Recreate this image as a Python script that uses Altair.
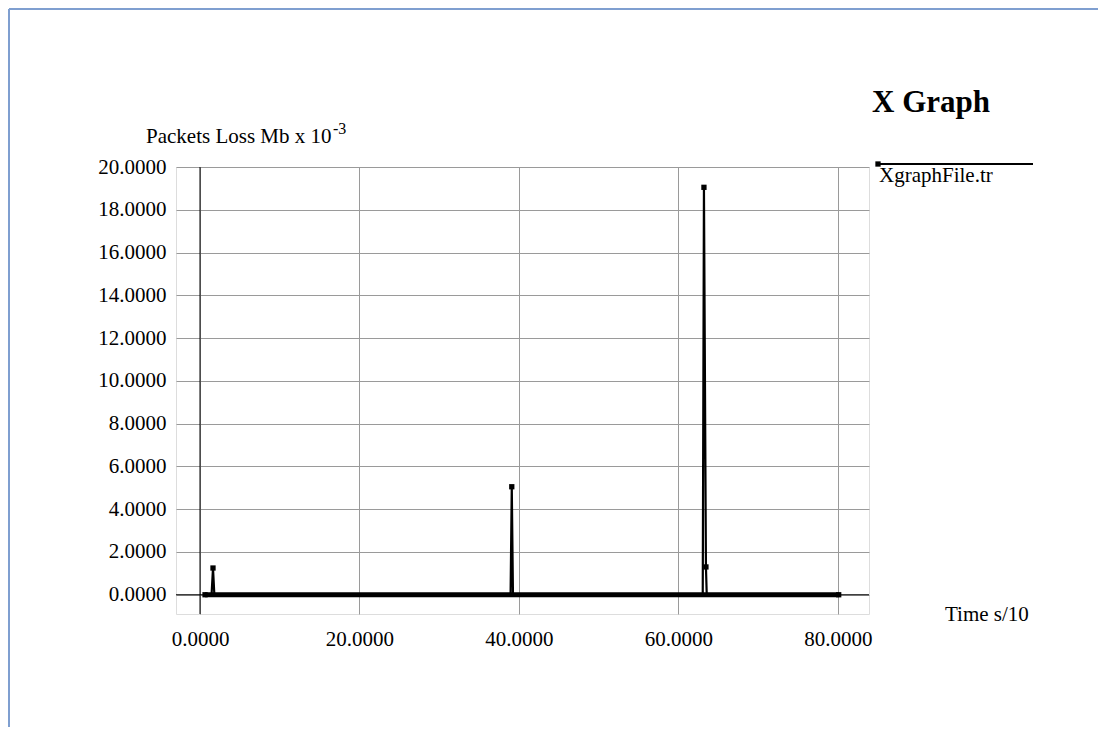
import altair as alt
import pandas as pd

# series (x = Time s/10, y = Packets Loss Mb x 10^-3)
line_x = [0.63, 1.45, 1.63, 1.80, 38.95, 39.10, 39.25, 63.05, 63.20, 63.45, 63.55, 80.10]
line_y = [0.0, 0.0, 1.25, 0.0, 0.0, 5.05, 0.0, 0.0, 19.05, 1.30, 0.0, 0.0]
marker_x = [0.63, 1.63, 39.10, 63.20, 63.45, 80.10]
marker_y = [0.0, 1.25, 5.05, 19.05, 1.30, 0.0]
base_start = [0.63]
base_end = [80.10]

x_ticks = [0, 20, 40, 60, 80]
y_ticks = [0, 2, 4, 6, 8, 10, 12, 14, 16, 18, 20]
x_domain = [-3.01, 83.9]
y_domain = [-0.9, 20.0]

FONT = "Liberation Serif"
FS = 21

df_line = pd.DataFrame({"x": line_x, "y": line_y, "o": list(range(len(line_x)))})
df_mark = pd.DataFrame({"x": marker_x, "y": marker_y})
df_base = pd.DataFrame({"x": base_start, "x2": base_end, "y": [0.0]})
df_zero = pd.DataFrame({"v": [0.0]})
df_one = pd.DataFrame({"a": [1]})

xs = alt.Scale(domain=x_domain, nice=False, zero=False)
ys = alt.Scale(domain=y_domain, nice=False, zero=False)

xaxis = alt.Axis(values=x_ticks, format=".4f", title=None, grid=True, ticks=False,
                 domain=False, labelPadding=14, labelFont=FONT, labelFontSize=FS,
                 labelColor="black", gridColor="#9a9a9a", labelFlush=False)
yaxis = alt.Axis(values=y_ticks, format=".4f", title=None, grid=True, ticks=False,
                 domain=False, labelPadding=10, labelFont=FONT, labelFontSize=FS,
                 labelColor="black", gridColor="#9a9a9a")

line = alt.Chart(df_line).mark_line(color="black", strokeWidth=2.2).encode(
    x=alt.X("x:Q", scale=xs, axis=xaxis),
    y=alt.Y("y:Q", scale=ys, axis=yaxis),
    order="o:Q",
)

zero_v = alt.Chart(df_zero).mark_rule(color="black", strokeWidth=1).encode(x=alt.X("v:Q", scale=xs))
zero_h = alt.Chart(df_zero).mark_rule(color="black", strokeWidth=1).encode(y=alt.Y("v:Q", scale=ys))

base = alt.Chart(df_base).mark_rule(color="black", strokeWidth=5).encode(
    x=alt.X("x:Q", scale=xs), x2="x2:Q", y=alt.Y("y:Q", scale=ys)
)

marks = alt.Chart(df_mark).mark_point(shape="square", filled=True, color="black",
                                      size=28, opacity=1).encode(
    x=alt.X("x:Q", scale=xs), y=alt.Y("y:Q", scale=ys)
)

def txt(text, x, y, size=FS, weight="normal", align="left", baseline="alphabetic"):
    return alt.Chart(df_one).mark_text(text=text, font=FONT, fontSize=size, fontWeight=weight,
                                       align=align, baseline=baseline, color="black").encode(
        x=alt.value(x), y=alt.value(y))

title = txt("X Graph", 696, -55, size=31, weight="bold")
ytitle = txt("Packets Loss Mb x 10", -30, -24)
ysup = txt("-3", 157, -33, size=16)
xtitle = txt("Time s/10", 769, 448, baseline="middle")
leg_text = txt("XgraphFile.tr", 703, 15)

leg_line = alt.Chart(df_one).mark_rule(color="black", strokeWidth=2).encode(
    x=alt.value(700), x2=alt.value(857), y=alt.value(-3))
leg_pt = alt.Chart(df_one).mark_point(shape="square", filled=True, color="black",
                                      size=28, opacity=1).encode(x=alt.value(702), y=alt.value(-3))

frame_left = alt.Chart(df_one).mark_rule(color="#7f9fd0", strokeWidth=2).encode(
    x=alt.value(-167), y=alt.value(-158), y2=alt.value(600))
frame_top = alt.Chart(df_one).mark_rule(color="#7f9fd0", strokeWidth=2).encode(
    x=alt.value(-167), x2=alt.value(960), y=alt.value(-158))

chart = alt.layer(
    line, zero_v, zero_h, base, marks,
    title, ytitle, ysup, xtitle, leg_text, leg_line, leg_pt, frame_left, frame_top,
).properties(
    width=693, height=447,
    autosize=alt.AutoSizeParams(type="none"),
    padding={"left": 168, "top": 159, "right": 229, "bottom": 113},
).configure_view(stroke="#8a8a8a", strokeWidth=1).configure(background="white")

chart.save("out.html", embed_options={"renderer": "svg", "actions": False})
